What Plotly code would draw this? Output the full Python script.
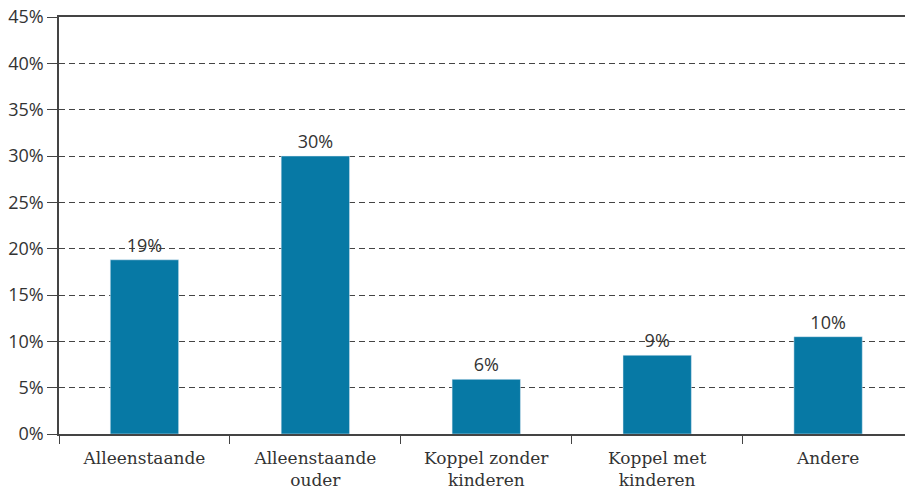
import plotly.graph_objects as go

# Data
categories = ['Alleenstaande', 'Alleenstaande<br>ouder', 'Koppel zonder<br>kinderen',
              'Koppel met<br>kinderen', 'Andere']
shares = [18.8, 30.0, 5.9, 8.5, 10.5]
labels = ['19%', '30%', '6%', '9%', '10%']
y_ticks = [0, 5, 10, 15, 20, 25, 30, 35, 40, 45]
y_tick_text = [f'{v}%' for v in y_ticks]

fig = go.Figure(go.Bar(
    x=categories, y=shares, text=labels, textposition='outside',
    marker_color='#0779a5', width=0.4, cliponaxis=False,
    textfont=dict(family='Open Sans', size=18, color='#333'),
))

fig.update_layout(
    width=905, height=488,
    margin=dict(l=59, r=0, t=17, b=54, autoexpand=False),
    plot_bgcolor='white', paper_bgcolor='white',
    showlegend=False,
    xaxis=dict(
        range=[-0.5, 4.45], showline=True, linecolor='#444', linewidth=1.5,
        mirror=True, ticks='outside', tickson='boundaries', ticklen=8,
        tickcolor='#444', tickfont=dict(family='DejaVu Serif', size=17, color='#333'),
        ticklabelstandoff=8, showgrid=False, automargin=False,
    ),
    yaxis=dict(
        range=[0, 45], tickvals=y_ticks, ticktext=y_tick_text,
        showline=True, linecolor='#444', linewidth=1.5,
        ticks='outside', ticklen=10, tickcolor='#444',
        tickfont=dict(family='Open Sans', size=18, color='#333'),
        showgrid=True, gridcolor='#444', griddash='6px,4px', gridwidth=1,
        zeroline=False, automargin=False,
    ),
)

# drop the browser's default page margin so the figure sits at the top-left corner
fig.write_html('out.html', config={'displayModeBar': False},
               post_script="document.body.style.margin='0';")
